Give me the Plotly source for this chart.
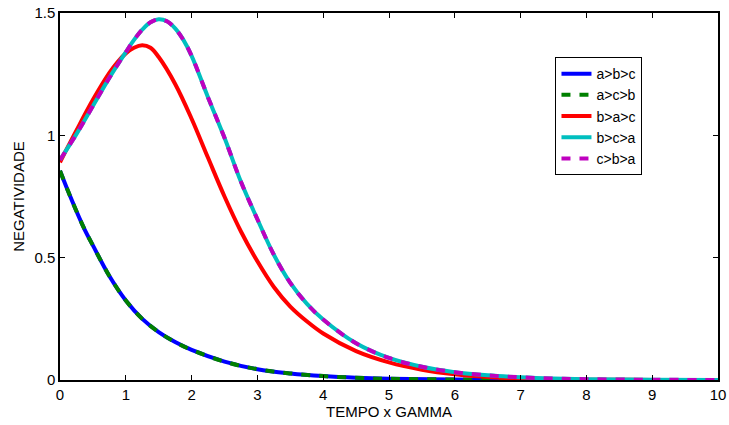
import plotly.graph_objects as go

# a>b>c and a>c>b (overlapping curves)
t_a = [0, 0.125, 0.25, 0.375, 0.5, 0.75, 1.0, 1.25, 1.5, 1.75, 2.0, 2.5, 3.0, 3.5, 4.0,
       4.5, 5.0, 6.0, 7.0, 8.0, 9.0, 10.0]
abc = [0.855, 0.77, 0.69, 0.615, 0.55, 0.425, 0.325, 0.25, 0.196, 0.155, 0.123, 0.075, 0.044,
       0.027, 0.016, 0.009, 0.005, 0.002, 0.0007, 0.0002, 0.0001, 0.0]
acb = abc[:]

# b>a>c
t_b = [0, 0.25, 0.5, 0.75, 0.875, 1.0, 1.125, 1.25, 1.375, 1.5, 1.75, 2.0, 2.25, 2.5, 2.75,
       3.0, 3.25, 3.5, 3.75, 4.0, 4.5, 5.0, 5.5, 6.0, 6.5, 7.0, 7.5, 8.0, 9.0, 10.0]
bac = [0.89, 1.02, 1.145, 1.255, 1.30, 1.335, 1.358, 1.368, 1.358, 1.32, 1.21, 1.068, 0.908,
       0.75, 0.607, 0.485, 0.38, 0.30, 0.24, 0.19, 0.118, 0.072, 0.042, 0.023, 0.012, 0.006,
       0.003, 0.0015, 0.0004, 0.0001]

# b>c>a and c>b>a (overlapping curves)
t_c = [0, 0.25, 0.5, 0.75, 1.0, 1.125, 1.25, 1.375, 1.5, 1.625, 1.75, 1.875, 2.0, 2.25, 2.5,
       2.75, 3.0, 3.25, 3.5, 3.75, 4.0, 4.5, 5.0, 5.5, 6.0, 6.5, 7.0, 7.5, 8.0, 9.0, 10.0]
bca = [0.90, 1.005, 1.12, 1.235, 1.34, 1.39, 1.432, 1.462, 1.474, 1.466, 1.437, 1.39, 1.325,
       1.155, 0.99, 0.81, 0.657, 0.512, 0.397, 0.312, 0.247, 0.15, 0.09, 0.054, 0.032, 0.019,
       0.011, 0.006, 0.0035, 0.001, 0.0003]
cba = bca[:]

series = [
    ("a>b>c", t_a, abc, "#0000FF", "solid"),
    ("a>c>b", t_a, acb, "#008000", "9px,9px"),
    ("b>a>c", t_b, bac, "#FF0000", "solid"),
    ("b>c>a", t_c, bca, "#00BFBF", "solid"),
    ("c>b>a", t_c, cba, "#BF00BF", "9px,9px"),
]

fig = go.Figure()
for name, xs, ys, color, dash in series:
    fig.add_trace(go.Scatter(
        x=xs, y=ys, name=name, mode="lines",
        line=dict(color=color, width=4, dash=dash, shape="spline", smoothing=1.0),
    ))

font = dict(family="Liberation Sans, Arial, sans-serif", size=15, color="#000000")
legend_font = dict(family="Liberation Sans, Arial, sans-serif", size=14, color="#000000")

axis_common = dict(
    showline=True, linecolor="#000000", linewidth=1.5, mirror="ticks",
    ticks="inside", ticklen=5, tickwidth=1, tickcolor="#000000",
    showgrid=False, zeroline=False, tickfont=font, automargin=False,
)

fig.update_layout(
    template="none",
    width=729, height=425,
    margin=dict(l=60, r=11, t=13, b=45, pad=0),
    paper_bgcolor="#FFFFFF", plot_bgcolor="#FFFFFF",
    font=font,
    xaxis=dict(range=[0, 10], dtick=1, tick0=0,
               title=dict(text="TEMPO x GAMMA", font=font, standoff=2), **axis_common),
    yaxis=dict(range=[0, 1.5], dtick=0.5, tick0=0,
               title=dict(text="NEGATIVIDADE", font=font, standoff=6), **axis_common),
    legend=dict(x=0.753, y=0.88, xanchor="left", yanchor="top",
                bordercolor="#000000", borderwidth=1, bgcolor="#FFFFFF",
                font=legend_font, tracegroupgap=0),
    showlegend=True,
)

fig.write_html("out.html")
